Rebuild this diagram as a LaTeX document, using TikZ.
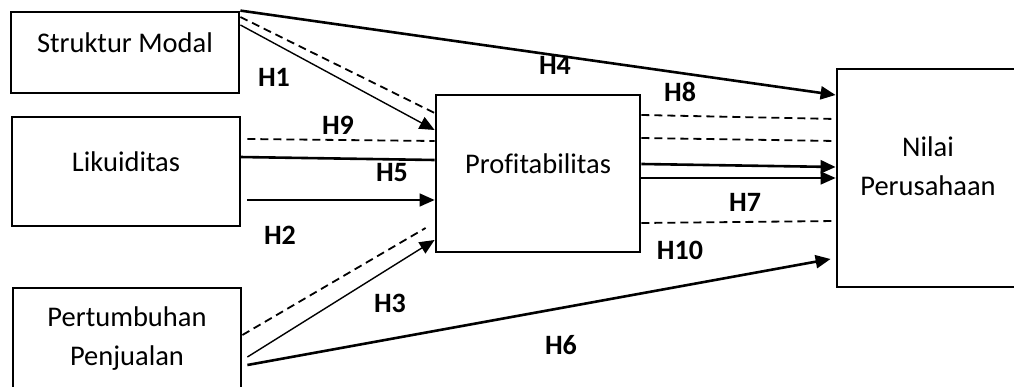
\documentclass[tikz,border=0pt]{standalone}
\usepackage{fontspec}
\setmainfont{Carlito}[Ligatures=NoCommon]
\usetikzlibrary{arrows.meta,calc}
\begin{document}
\begin{tikzpicture}[x=1pt,y=-1pt,
  box/.style={draw, line width=2.8pt, inner sep=0pt, font=\fontsize{28.5}{39}\selectfont},
  lbl/.style={inner sep=0pt, font=\fontsize{28}{30}\selectfont\bfseries},
  thickln/.style={line width=2.6pt},
  thinln/.style={line width=1.4pt},
  dashln/.style={line width=1.8pt, dash pattern=on 8pt off 5pt},
  tip/.style={-{Triangle[length=15pt,width=13pt]}}]
\useasboundingbox (0,0) rectangle (1014,387);
\clip (0,0) rectangle (1014,387);
% boxes
\node[box, minimum width=228pt, minimum height=81pt] (sm) at (125,52.5) {\smash{Struktur Modal}};
\node[box, minimum width=228pt, minimum height=109pt] (lk) at (126,171.5) {\smash{Likuiditas}};
\node[box, minimum width=228pt, minimum height=115pt] (pp) at (127,345.5)
  {\smash{\raisebox{-19.5pt}{\begin{tabular}[b]{@{}c@{}}Pertumbuhan\\Penjualan\end{tabular}}}};
\node[box, minimum width=204pt, minimum height=157pt] (pr) at (538,173.5) {\smash{Profitabilitas}};
\node[box, minimum width=182pt, minimum height=218pt] (nv) at (928,178)
  {\smash{\raisebox{-18pt}{\begin{tabular}[b]{@{}c@{}}Nilai\\Perusahaan\end{tabular}}}};
% connectors into Profitabilitas
\draw[thickln, tip] (sm.north east) -- (nv.west |- 0,95);
\draw[dashln] (sm.east |- 0,17) -- (pr.west |- 0,113);
\draw[thinln, tip] (sm.east |- 0,25) -- (pr.west |- 0,130);
\draw[dashln] ($(lk.east |- 0,139)+(6,0)$) -- (pr.west |- 0,141);
\draw[thickln] ($(lk.east |- 0,157)+(-2,0)$) -- (pr.west |- 0,160);
\draw[thinln, tip] ($(lk.east |- 0,200)+(6,0)$) -- (pr.west |- 0,200);
\draw[dashln] (pp.east |- 0,335) -- ($(pr.west |- 0,228)+(-9,0)$);
\draw[thinln, tip] ($(pp.east |- 0,357)+(5,0)$) -- (pr.west |- 0,240);
\draw[thickln, tip] ($(pp.east |- 0,365)+(5,0)$) -- ($(nv.west |- 0,259)+(-5,0)$);
% connectors into Nilai Perusahaan
\draw[dashln] (pr.east |- 0,115) -- (nv.west |- 0,119);
\draw[dashln] (pr.east |- 0,138) -- (nv.west |- 0,141);
\draw[thickln, tip] (pr.east |- 0,164) -- (nv.west |- 0,167);
\draw[thinln, tip] (pr.east |- 0,178) -- (nv.west |- 0,178);
\draw[dashln] (pr.east |- 0,223) -- (nv.west |- 0,221);
% labels
\node[lbl] (h1) at (274,77) {H1};
\node[lbl] (h9) at (338,125) {H9};
\node[lbl] (h5) at (392,173) {H5};
\node[lbl] (h2) at (280,235) {H2};
\node[lbl] (h3) at (390,303) {H3};
\node[lbl] (h4) at (555,65) {H4};
\node[lbl] (h8) at (680,92) {H8};
\node[lbl] (h7) at (745,202) {H7};
\node[lbl] (h10) at (680,250) {H10};
\node[lbl] (h6) at (561,345) {H6};
\end{tikzpicture}
\end{document}
